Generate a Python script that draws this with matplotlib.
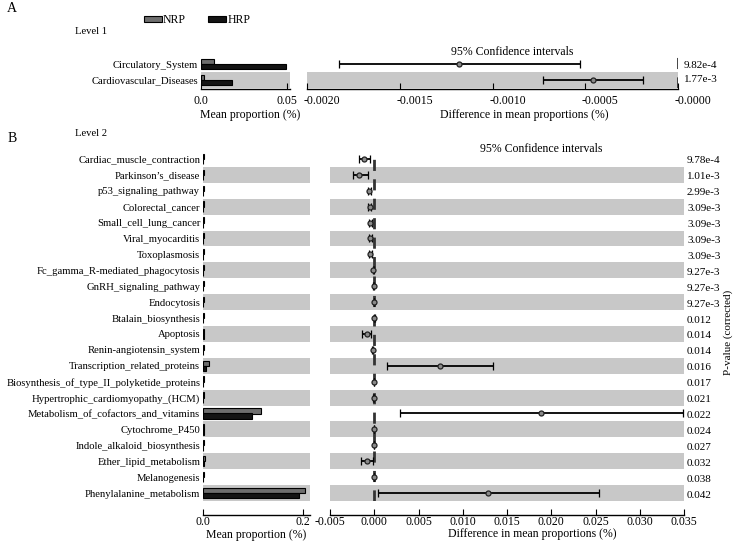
"""Extended error bar plot (STAMP style): Level 1 and Level 2 pathways, NRP vs HRP."""
import matplotlib
matplotlib.use("Agg")
import matplotlib.pyplot as plt
from matplotlib.patches import Patch
from matplotlib.ticker import FixedLocator, FixedFormatter
from matplotlib.transforms import ScaledTranslation

plt.rcParams["font.family"] = ["Liberation Serif", "DejaVu Serif"]

# ---------------------------------------------------------------------
# Data
# ---------------------------------------------------------------------
L1_NAMES = ["Circulatory_System", "Cardiovascular_Diseases"]
L1_NRP = [0.0076, 0.0017]
L1_HRP = [0.0494, 0.0180]
L1_DIFF = [-0.00118, -0.00046]
L1_LO = [-0.00183, -0.00073]
L1_HI = [-0.00053, -0.00019]
L1_P = ["9.82e-4", "1.77e-3"]

L2_NAMES = [
    "Cardiac_muscle_contraction", "Parkinson\u2019s_disease", "p53_signaling_pathway",
    "Colorectal_cancer", "Small_cell_lung_cancer", "Viral_myocarditis",
    "Toxoplasmosis", "Fc_gamma_R-mediated_phagocytosis", "GnRH_signaling_pathway",
    "Endocytosis", "Btalain_biosynthesis", "Apoptosis", "Renin-angiotensin_system",
    "Transcription_related_proteins", "Biosynthesis_of_type_II_polyketide_proteins",
    "Hypertrophic_cardiomyopathy_(HCM)", "Metabolism_of_cofactors_and_vitamins",
    "Cytochrome_P450", "Indole_alkaloid_biosynthesis", "Ether_lipid_metabolism",
    "Melanogenesis", "Phenylalanine_metabolism",
]
L2_NRP = [0.0020, 0.0022, 0.0012, 0.0015, 0.0012, 0.0015, 0.0012, 0.0015,
          0.0012, 0.0015, 0.0012, 0.0030, 0.0012, 0.0130, 0.0012, 0.0015,
          0.1150, 0.0025, 0.0012, 0.0035, 0.0012, 0.2040]
L2_HRP = [0.0010, 0.0010, 0.0008, 0.0008, 0.0006, 0.0008, 0.0006, 0.0010,
          0.0008, 0.0010, 0.0008, 0.0015, 0.0008, 0.0067, 0.0008, 0.0010,
          0.0980, 0.0015, 0.0008, 0.0020, 0.0008, 0.1920]
L2_DIFF = [-0.00113, -0.00170, -0.00055, -0.00053, -0.00049, -0.00045, -0.00045,
           -0.00010, -0.00007, -0.00004, 0.00000, -0.00083, -0.00015, 0.00743,
           -0.00004, -0.00006, 0.01885, -0.00004, -0.00004, -0.00083, -0.00004,
           0.01290]
L2_LO = [-0.00177, -0.00245, -0.00068, -0.00068, -0.00060, -0.00060, -0.00060,
         -0.00015, -0.00010, -0.00008, -0.00003, -0.00140, -0.00020, 0.00140,
         -0.00007, -0.00010, 0.00290, -0.00007, -0.00007, -0.00150, -0.00007,
         0.00045]
L2_HI = [-0.00045, -0.00075, -0.00040, -0.00038, -0.00026, -0.00023, -0.00023,
         -0.00005, -0.00003, 0.00000, 0.00003, -0.00038, -0.00010, 0.01338,
         -0.00001, -0.00002, 0.03490, -0.00001, -0.00001, -0.00010, -0.00001,
         0.02540]
L2_P = ["9.78e-4", "1.01e-3", "2.99e-3", "3.09e-3", "3.09e-3", "3.09e-3",
        "3.09e-3", "9.27e-3", "9.27e-3", "9.27e-3", "0.012", "0.014", "0.014",
        "0.016", "0.017", "0.021", "0.022", "0.024", "0.027", "0.032", "0.038",
        "0.042"]

GROUPS = ["NRP", "HRP"]

# ---------------------------------------------------------------------
# Style
# ---------------------------------------------------------------------
W, H = 734, 541
BAND = "#c8c8c8"
NRP_C = "#6e6e6e"
HRP_C = "#141414"
FS_LAB = 7.7
FS_TICK = 8.5
FS_P = 8.0


def box(x0, y0, x1, y1):
    """pixel box (top-left origin) -> figure fraction rect"""
    return [x0 / W, 1 - y1 / H, (x1 - x0) / W, (y1 - y0) / H]


def shade(ax, n):
    for i in range(n):
        if i % 2 == 1:
            ax.axhspan(i - 0.5, i + 0.5, color=BAND, lw=0, zorder=0)


def style_axis(ax, offset=0, pad=2):
    for s in ("top", "right", "left"):
        ax.spines[s].set_visible(False)
    ax.spines["bottom"].set_position(("outward", offset))
    ax.spines["bottom"].set_linewidth(1.0)
    ax.tick_params(axis="x", direction="in", length=4, labelsize=FS_TICK, pad=pad)
    ax.set_yticks([])


def bar_panel(ax, names, nrp, hrp, xmax, ticks, offset, pad):
    n = len(names)
    y = list(range(n))
    shade(ax, n)
    h = 0.33
    ax.barh([v - h / 2 for v in y], nrp, height=h, color=NRP_C,
            edgecolor="black", linewidth=0.8, zorder=2)
    ax.barh([v + h / 2 for v in y], hrp, height=h, color=HRP_C,
            edgecolor="black", linewidth=0.8, zorder=2)
    ax.set_ylim(n - 0.5, -0.5)
    ax.set_xlim(0, xmax)
    ax.set_xticks(ticks)
    ax.set_xticklabels([f"{t:.1f}" if t else "0.0" for t in ticks])
    style_axis(ax, offset, pad)
    ax.set_yticks(y)
    ax.set_yticklabels(names, fontsize=FS_LAB)
    ax.tick_params(axis="y", length=0, pad=2)


def ci_panel(ax, diff, lo, hi, xlim, ticks, ticklabels, offset, pad):
    n = len(diff)
    y = list(range(n))
    shade(ax, n)
    ax.axvline(0, color="#333333", lw=2.0, dashes=(4, 3), zorder=1)
    err = [[d - l for d, l in zip(diff, lo)], [h - d for d, h in zip(diff, hi)]]
    ax.errorbar(diff, y, xerr=err, fmt="o", color="black", ecolor="black",
                elinewidth=1.3, capsize=3, capthick=1.3, markersize=3.6,
                markerfacecolor="#8a8a8a", markeredgecolor="#222222",
                markeredgewidth=0.9, zorder=3)
    ax.set_ylim(n - 0.5, -0.5)
    ax.set_xlim(*xlim)
    ax.xaxis.set_major_locator(FixedLocator(ticks))
    ax.xaxis.set_major_formatter(FixedFormatter(ticklabels))
    style_axis(ax, offset, pad)


fig = plt.figure(figsize=(W / 100, H / 100), dpi=100)

# ---------------- Panel A ----------------
axA1 = fig.add_axes(box(201, 56, 290, 88))
bar_panel(axA1, L1_NAMES, L1_NRP, L1_HRP, 0.0518, [0.0, 0.05], 1, 4)
axA1.set_xticklabels(["0.0", "0.05"])

axA2 = fig.add_axes(box(307, 56, 678, 88))
ci_panel(axA2, L1_DIFF, L1_LO, L1_HI, (-0.0020, 0.0),
         [-0.0020, -0.0015, -0.0010, -0.0005, 0.0],
         ["-0.0020", "-0.0015", "-0.0010", "-0.0005", "-0.0000"], 1, 4)
# labels in the source sit a little right of their ticks
shift = ScaledTranslation(15 / 100, 0, fig.dpi_scale_trans)
for lab in axA2.get_xticklabels():
    lab.set_transform(lab.get_transform() + shift)

for i, p in enumerate(L1_P):
    fig.text(684 / W, 1 - (66 + 14 * i) / H, p, fontsize=FS_P, va="center")

fig.text(250 / W, 1 - 115 / H, "Mean proportion (%)", fontsize=FS_TICK,
         ha="center", va="center")
fig.text(524 / W, 1 - 115 / H, "Difference in mean proportions (%)",
         fontsize=FS_TICK, ha="center", va="center")
fig.text(512 / W, 1 - 52 / H, "95% Confidence intervals", fontsize=FS_TICK,
         ha="center", va="center")
fig.text(12 / W, 1 - 9 / H, "A", fontsize=10, ha="center", va="center")
fig.text(75 / W, 1 - 31 / H, "Level 1", fontsize=FS_LAB, ha="left", va="center")

handles = [Patch(facecolor=NRP_C, edgecolor="black", lw=0.8),
           Patch(facecolor=HRP_C, edgecolor="black", lw=0.8)]
fig.legend(handles, GROUPS, loc="center left", bbox_to_anchor=(144 / W, 1 - 20 / H),
           ncol=2, frameon=False, fontsize=FS_TICK, handlelength=1.5,
           handleheight=0.45, handletextpad=0.1, columnspacing=1.9,
           borderaxespad=0, borderpad=0)

# ---------------- Panel B ----------------
axB1 = fig.add_axes(box(203, 151, 310, 501))
bar_panel(axB1, L2_NAMES, L2_NRP, L2_HRP, 0.214, [0.0, 0.2], 10, 1)

axB2 = fig.add_axes(box(330, 151, 684, 501))
ci_panel(axB2, L2_DIFF, L2_LO, L2_HI, (-0.005, 0.035),
         [-0.005, 0.0, 0.005, 0.010, 0.015, 0.020, 0.025, 0.030, 0.035],
         ["-0.005", "0.000", "0.005", "0.010", "0.015", "0.020", "0.025",
          "0.030", "0.035"], 10, 1)

for i, p in enumerate(L2_P):
    yy = 151 + (i + 0.5) * (350 / len(L2_P)) + 2
    fig.text(687 / W, 1 - yy / H, p, fontsize=FS_P, va="center")

fig.text(256 / W, 1 - 535 / H, "Mean proportion (%)", fontsize=FS_TICK,
         ha="center", va="center")
fig.text(532 / W, 1 - 534 / H, "Difference in mean proportions (%)",
         fontsize=FS_TICK, ha="center", va="center")
fig.text(541 / W, 1 - 149 / H, "95% Confidence intervals", fontsize=FS_TICK,
         ha="center", va="center")
fig.text(12 / W, 1 - 138 / H, "B", fontsize=10, ha="center", va="center")
fig.text(75 / W, 1 - 134 / H, "Level 2", fontsize=FS_LAB, ha="left", va="center")
fig.text(728 / W, 1 - 332 / H, "P-value (corrected)", fontsize=FS_P,
         rotation=90, ha="center", va="center")

fig.savefig("out.png", dpi=100)
